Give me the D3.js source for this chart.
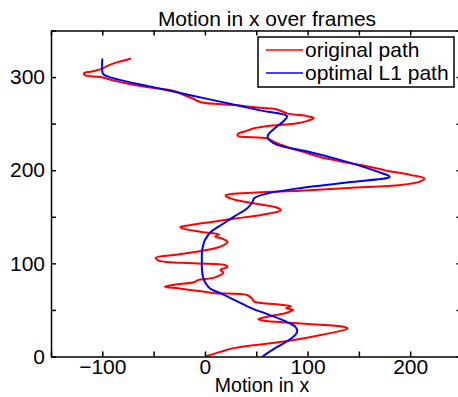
<!DOCTYPE html>
<html>
<head>
<meta charset="utf-8">
<script src="https://d3js.org/d3.v7.min.js"></script>
<style>
  body { margin: 0; background: #fff; }
  svg text { font-family: "Liberation Sans", Arial, sans-serif; fill: #000; }
  .ax path, .ax line { stroke: #000; stroke-width: 1.5; }
</style>
</head>
<body>
<svg id="chart" width="458" height="397"></svg>
<script>
// frame numbers and motion for the original (red) path
const origFrames = [0,5,9,16,23,27,30,32,35,38,40,43,47,50,52,54,56,59,62,66,68,70,73,75,77,80,82,85,90,93,96,98,100,103,106,109,113,118,123,126,129,131,134,137,139,141,145,148,152,157,160,164,168,171,173,176,178,181,184,188,191,195,200,204,210,214,220,225,230,234,237,239,242,245,248,250,253,256,258,261,265,267,270,273,277,281,285,289,293,296,300,302,304,306,309,312,316,320];
const origX = [0,15,28,77,113,130,139,135,100,60,52,62,80,86,79,84,70,48,46,41,10,-4,-25,-39,-30,-10,-7,10,18,15,22,20,-10,-45,-48,-30,-5,15,22,18,10,14,-5,-20,-24,-15,10,28,55,74,70,50,30,22,20,50,93,140,191,210,214,200,175,159,130,113,95,80,68,61,32,32,40,48,65,87,100,106,100,80,71,54,28,-4,-12,-21,-30,-55,-76,-88,-102,-117,-118,-110,-100,-95,-85,-72];

// optimal L1 (blue) path
const optFrames = [0,10,20,27,32,37,45,52,60,68,73,80,86,95,103,110,118,125,134,142,150,159,165,170,175,181,187,193,197,202,210,220,227,232,236,240,245,252,258,264,270,280,290,297,300,303,306,320];
const optX = [56,70,85,90,88,80,62,45,30,15,5,0,-2,-3,-3,-3,-2,0,6,17,28,41,46,48,61,94,140,180,172,159,135,100,71,63,61,63,68,76,80,55,30,-12,-54,-83,-93,-99,-100,-100];

const xTicks = [-150,-100,-50,0,50,100,150,200,250];
const yTicks = [0,50,100,150,200,250,300,350];
const xLabeled = [-100,0,100,200];
const yLabeled = [0,100,200,300];
const seriesNames = ['original path','optimal L1 path'];
const seriesColors = ['#ff0000','#0000ff'];

const svg = d3.select('#chart');
const x = d3.scaleLinear().domain([-150,250]).range([51,461.5]);
const y = d3.scaleLinear().domain([0,350]).range([356.5,30.5]);

const fmtX = d => xLabeled.includes(d) ? (d < 0 ? '\u2212' + Math.abs(d) : d) : '';
const fmtY = d => yLabeled.includes(d) ? d : '';

// lines
const line = d3.line().x(d => x(d[1])).y(d => y(d[0])).curve(d3.curveCatmullRom.alpha(0.5));
const orig = origFrames.map((f,i) => [f, origX[i]]);
const opt = optFrames.map((f,i) => [f, optX[i]]);

svg.append('path').datum(orig).attr('d', line)
   .attr('fill','none').attr('stroke',seriesColors[0]).attr('stroke-width',2);
svg.append('path').datum(opt).attr('d', line)
   .attr('fill','none').attr('stroke',seriesColors[1]).attr('stroke-width',2);

// axes, ticks pointing inward
const xb = svg.append('g').attr('class','ax').attr('transform',`translate(0,${y(0)})`)
  .call(d3.axisBottom(x).tickValues(xTicks).tickSize(-5).tickSizeOuter(0).tickPadding(2).tickFormat(fmtX));
const xt = svg.append('g').attr('class','ax').attr('transform',`translate(0,${y(350)})`)
  .call(d3.axisTop(x).tickValues(xTicks).tickSize(-5).tickSizeOuter(0).tickFormat(''));
const yl = svg.append('g').attr('class','ax').attr('transform',`translate(${x(-150)},0)`)
  .call(d3.axisLeft(y).tickValues(yTicks).tickSize(-5).tickSizeOuter(0).tickPadding(6).tickFormat(fmtY));
const yr = svg.append('g').attr('class','ax').attr('transform',`translate(${x(250)},0)`)
  .call(d3.axisRight(y).tickValues(yTicks).tickSize(-5).tickSizeOuter(0).tickFormat(''));

svg.selectAll('.ax text').attr('font-size', 21).attr('font-family','"Liberation Sans", Arial, sans-serif');
xb.selectAll('text').attr('dy','0.72em');

// title and x label
svg.append('text').attr('x',267).attr('y',26).attr('text-anchor','middle')
   .attr('font-size',21).text('Motion in x over frames');
svg.append('text').attr('x',262).attr('y',392).attr('text-anchor','middle')
   .attr('font-size',19.5).text('Motion in x');

// legend
const lg = svg.append('g');
lg.append('rect').attr('x',258).attr('y',37).attr('width',196).attr('height',50)
  .attr('fill','#fff').attr('stroke','#000').attr('stroke-width',1.5);
seriesNames.forEach((name,i) => {
  const cy = 50 + i*23;
  lg.append('line').attr('x1',266).attr('x2',303).attr('y1',cy).attr('y2',cy)
    .attr('stroke',seriesColors[i]).attr('stroke-width',1.5);
  lg.append('text').attr('x',305).attr('y',cy).attr('dy','0.35em')
    .attr('font-size',21).text(name);
});
</script>
</body>
</html>
